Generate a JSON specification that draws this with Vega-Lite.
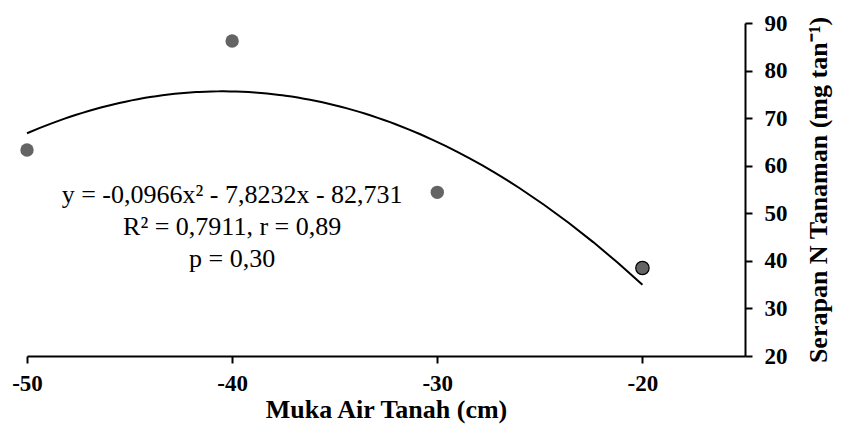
{
  "$schema": "https://vega.github.io/schema/vega-lite/v6.json",
  "width": 718,
  "height": 333,
  "autosize": "none",
  "padding": {"left": 27, "top": 23, "right": 98, "bottom": 78},
  "background": "white",
  "config": {
    "view": {"stroke": null},
    "font": "Liberation Serif",
    "axis": {
      "grid": false,
      "domainColor": "black",
      "domainWidth": 2,
      "tickColor": "black",
      "tickWidth": 2,
      "tickSize": 7,
      "labelFont": "Liberation Serif",
      "labelFontWeight": "bold",
      "labelFontSize": 23,
      "labelColor": "black",
      "titleFont": "Liberation Serif",
      "titleFontWeight": "bold",
      "titleFontSize": 26,
      "titleColor": "black"
    }
  },
  "datasets": {
    "pts": [
      {"muka": -50, "serapan": 63.3},
      {"muka": -40, "serapan": 86.2},
      {"muka": -30, "serapan": 54.4},
      {"muka": -20, "serapan": 38.5}
    ],
    "notes": [
      {"muka": -40, "serapan": 53.8, "label": "y = -0,0966x² - 7,8232x - 82,731"},
      {"muka": -40, "serapan": 47.1, "label": "R² = 0,7911, r = 0,89"},
      {"muka": -40, "serapan": 40.4, "label": "p = 0,30"}
    ]
  },
  "encoding": {
    "x": {
      "field": "muka",
      "type": "quantitative",
      "scale": {"domain": [-50, -15], "nice": false, "zero": false},
      "axis": {
        "values": [-50, -40, -30, -20],
        "labelExpr": "'' + datum.value",
        "title": "Muka Air Tanah (cm)",
        "labelPadding": 9,
        "titlePadding": 1,
        "labelFlush": false
      }
    },
    "y": {
      "field": "serapan",
      "type": "quantitative",
      "scale": {"domain": [20, 90], "nice": false, "zero": false},
      "axis": {
        "orient": "right",
        "values": [20, 30, 40, 50, 60, 70, 80, 90],
        "title": "Serapan N Tanaman (mg tan⁻¹)",
        "titleAngle": 270,
        "titleBaseline": "top",
        "labelPadding": 12,
        "titlePadding": 18,
        "labelFlush": false
      }
    }
  },
  "layer": [
    {
      "data": {"name": "pts"},
      "transform": [
        {"regression": "serapan", "on": "muka", "method": "poly", "order": 2, "extent": [-50, -20]}
      ],
      "mark": {"type": "line", "color": "black", "strokeWidth": 2}
    },
    {
      "data": {"name": "pts"},
      "transform": [{"filter": "datum.muka != -20"}],
      "mark": {"type": "point", "filled": true, "size": 180, "color": "#646464", "opacity": 1}
    },
    {
      "data": {"name": "pts"},
      "transform": [{"filter": "datum.muka == -20"}],
      "mark": {"type": "point", "filled": true, "size": 180, "fill": "#646464", "stroke": "black", "strokeWidth": 1.2, "opacity": 1}
    },
    {
      "data": {"name": "notes"},
      "mark": {"type": "text", "font": "Liberation Serif", "fontSize": 26, "color": "black", "align": "center", "baseline": "middle"},
      "encoding": {"text": {"field": "label"}}
    }
  ]
}
